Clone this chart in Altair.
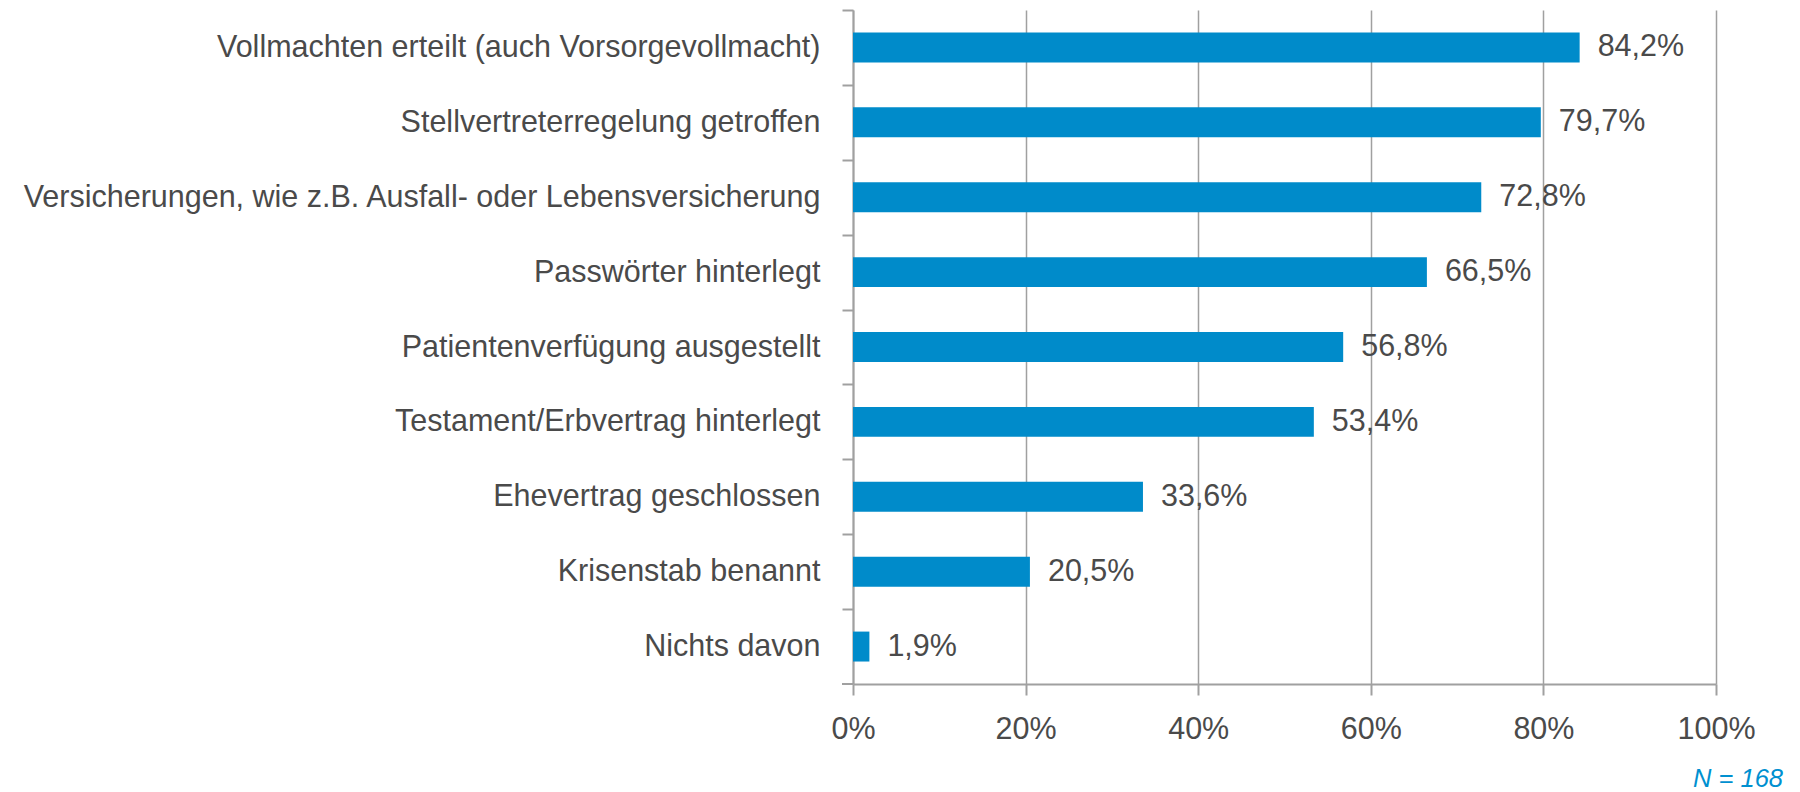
import altair as alt
import pandas as pd

categories = [
    "Vollmachten erteilt (auch Vorsorgevollmacht)",
    "Stellvertreterregelung getroffen",
    "Versicherungen, wie z.B. Ausfall- oder Lebensversicherung",
    "Passwörter hinterlegt",
    "Patientenverfügung ausgestellt",
    "Testament/Erbvertrag hinterlegt",
    "Ehevertrag geschlossen",
    "Krisenstab benannt",
    "Nichts davon",
]
values = [84.2, 79.7, 72.8, 66.5, 56.8, 53.4, 33.6, 20.5, 1.9]
x_ticks = [0, 20, 40, 60, 80, 100]
note = "N = 168"

df = pd.DataFrame({"cat": categories, "val": values})
df["label"] = [f"{v:.1f}%".replace(".", ",") for v in values]

FONT = "Liberation Sans, Arial, sans-serif"
FS = 30.5
TXT = "#4a4a4a"
AX = "#a0a0a0"
W, H = 863, 674
n = len(categories)
half_step = H / n / 2

y_enc = alt.Y(
    "cat:N",
    sort=categories,
    scale=alt.Scale(paddingInner=0.6, paddingOuter=0.3),
    axis=alt.Axis(
        title=None,
        labelFont=FONT,
        labelFontSize=FS,
        labelColor=TXT,
        labelPadding=22,
        labelLimit=900,
        tickSize=11,
        tickColor=AX,
        tickWidth=2,
        tickOffset=-half_step,
        labelOffset=half_step,
        domainColor=AX,
        domainWidth=2,
        grid=False,
    ),
)
x_enc = alt.X(
    "val:Q",
    scale=alt.Scale(domain=[0, 100], nice=False),
    axis=alt.Axis(
        title=None,
        values=x_ticks,
        labelExpr="datum.value + '%'",
        labelFlush=False,
        labelOverlap=False,
        labelFont=FONT,
        labelFontSize=FS,
        labelColor=TXT,
        labelPadding=19,
        tickSize=11,
        tickColor=AX,
        tickWidth=2,
        domainColor=AX,
        domainWidth=2,
        grid=True,
        gridColor=AX,
        gridWidth=1.5,
    ),
)

base = alt.Chart(df)
bars = base.mark_bar(color="#008BCA").encode(x=x_enc, y=y_enc)
labels = base.mark_text(
    align="left", baseline="middle", dx=18, font=FONT, fontSize=FS, color=TXT
).encode(x="val:Q", y=alt.Y("cat:N", sort=categories), text="label:N")
corner_tick = alt.Chart(pd.DataFrame({"k": [0]})).mark_rule(
    color=AX, strokeWidth=2
).encode(x=alt.value(-11), x2=alt.value(0), y=alt.value(H))

chart = (
    alt.layer(bars, labels, corner_tick)
    .properties(
        width=W,
        height=H,
        autosize=alt.AutoSizeParams(type="none"),
        padding={"left": 853, "top": 10, "right": 84, "bottom": 108},
        title=alt.TitleParams(
            text=note,
            orient="bottom",
            anchor="end",
            dx=28,
            offset=22,
            font=FONT,
            fontSize=25.5,
            fontStyle="italic",
            fontWeight="normal",
            color="#0090D0",
        ),
    )
    .configure_view(stroke=None)
)

chart.save("out.html", embed_options={"renderer": "svg", "actions": False})
